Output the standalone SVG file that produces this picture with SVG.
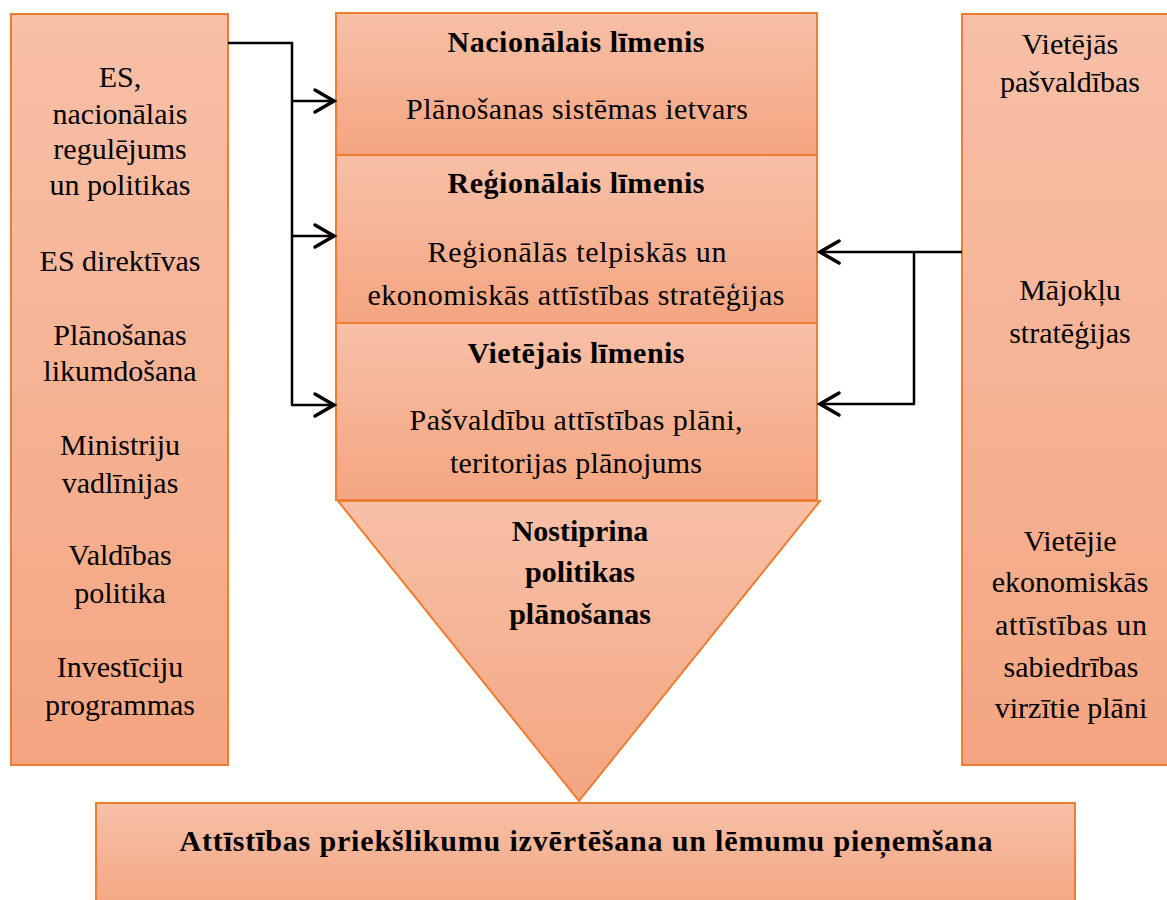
<svg xmlns="http://www.w3.org/2000/svg" width="1167" height="900" viewBox="0 0 1167 900">
  <defs>
    <linearGradient id="peach" x1="0" y1="0" x2="0" y2="1">
      <stop offset="0" stop-color="#F7C0A7"/>
      <stop offset="1" stop-color="#F4A581"/>
    </linearGradient>
    <marker id="head" markerUnits="userSpaceOnUse" markerWidth="30" markerHeight="30" viewBox="-24 -15 30 30" refX="0" refY="0" orient="auto">
      <path d="M-19,-11 L0,0 L-19,11" fill="none" stroke="#000" stroke-width="3.5" stroke-linecap="round" stroke-linejoin="miter"/>
    </marker>
  </defs>
  <style>
    .box { fill: url(#peach); stroke: #ED7D31; stroke-width: 2; }
    .t { font-family: "Liberation Serif", "Times New Roman", serif; font-size: 30px; fill: #000; text-anchor: middle; }
    .b { font-weight: bold; }
    .wire { fill: none; stroke: #000; stroke-width: 2.5; }
  </style>
  <rect width="1167" height="900" fill="#fff"/>

  <!-- left column: frameworks -->
  <g id="frameworks">
    <rect class="box" x="11" y="14" width="217" height="751"/>
    <text class="t" x="120" y="87">ES,</text>
    <text class="t" x="120" y="124">nacionālais</text>
    <text class="t" x="120" y="159">regulējums</text>
    <text class="t" x="120" y="195">un politikas</text>
    <text class="t" x="120" y="271">ES direktīvas</text>
    <text class="t" x="120" y="345">Plānošanas</text>
    <text class="t" x="120" y="381">likumdošana</text>
    <text class="t" x="120" y="455">Ministriju</text>
    <text class="t" x="120" y="493">vadlīnijas</text>
    <text class="t" x="120" y="565">Valdības</text>
    <text class="t" x="120" y="603">politika</text>
    <text class="t" x="120" y="677">Investīciju</text>
    <text class="t" x="120" y="715">programmas</text>
  </g>

  <!-- central stack: planning levels -->
  <g id="national">
    <rect class="box" x="336" y="13" width="481" height="142"/>
    <text class="t b" x="576" y="52" textLength="257" lengthAdjust="spacing">Nacionālais līmenis</text>
    <text class="t" x="577" y="119" textLength="342" lengthAdjust="spacing">Plānošanas sistēmas ietvars</text>
  </g>
  <g id="regional">
    <rect class="box" x="336" y="155" width="481" height="168"/>
    <text class="t b" x="576" y="193" textLength="257" lengthAdjust="spacing">Reģionālais līmenis</text>
    <text class="t" x="577" y="262" textLength="299" lengthAdjust="spacing">Reģionālās telpiskās un</text>
    <text class="t" x="576" y="305" textLength="417" lengthAdjust="spacing">ekonomiskās attīstības stratēģijas</text>
  </g>
  <g id="local">
    <rect class="box" x="336" y="323" width="481" height="177"/>
    <text class="t b" x="576" y="363" textLength="217" lengthAdjust="spacing">Vietējais līmenis</text>
    <text class="t" x="576" y="430" textLength="333" lengthAdjust="spacing">Pašvaldību attīstības plāni,</text>
    <text class="t" x="576" y="473" textLength="252" lengthAdjust="spacing">teritorijas plānojums</text>
  </g>
  <g id="funnel">
    <polygon class="box" points="338,501 820,501 579,801"/>
    <text class="t b" x="580" y="541">Nostiprina</text>
    <text class="t b" x="580" y="582">politikas</text>
    <text class="t b" x="580" y="624">plānošanas</text>
  </g>

  <!-- right column: local inputs -->
  <g id="local-inputs">
    <rect class="box" x="962" y="14" width="215" height="751"/>
    <text class="t" x="1070" y="54">Vietējās</text>
    <text class="t" x="1070" y="92">pašvaldības</text>
    <text class="t" x="1070" y="300">Mājokļu</text>
    <text class="t" x="1070" y="343">stratēģijas</text>
    <text class="t" x="1070" y="551">Vietējie</text>
    <text class="t" x="1070" y="592">ekonomiskās</text>
    <text class="t" x="1071" y="635" textLength="152" lengthAdjust="spacing">attīstības un</text>
    <text class="t" x="1071" y="677">sabiedrības</text>
    <text class="t" x="1071" y="718">virzītie plāni</text>
  </g>

  <!-- bottom: decision making -->
  <g id="decision">
    <rect class="box" x="96" y="803" width="979" height="110"/>
    <text class="t b" x="586" y="851" textLength="813" lengthAdjust="spacing">Attīstības priekšlikumu izvērtēšana un lēmumu pieņemšana</text>
  </g>

  <!-- connectors -->
  <g id="connectors">
    <path class="wire" d="M228,43 H292 V405"/>
    <path class="wire" d="M291,101 H334" marker-end="url(#head)"/>
    <path class="wire" d="M291,236 H334" marker-end="url(#head)"/>
    <path class="wire" d="M291,405 H334" marker-end="url(#head)"/>
    <path class="wire" d="M962,252 H820" marker-end="url(#head)"/>
    <path class="wire" d="M914,252 V404 H820" marker-end="url(#head)"/>
  </g>
</svg>
